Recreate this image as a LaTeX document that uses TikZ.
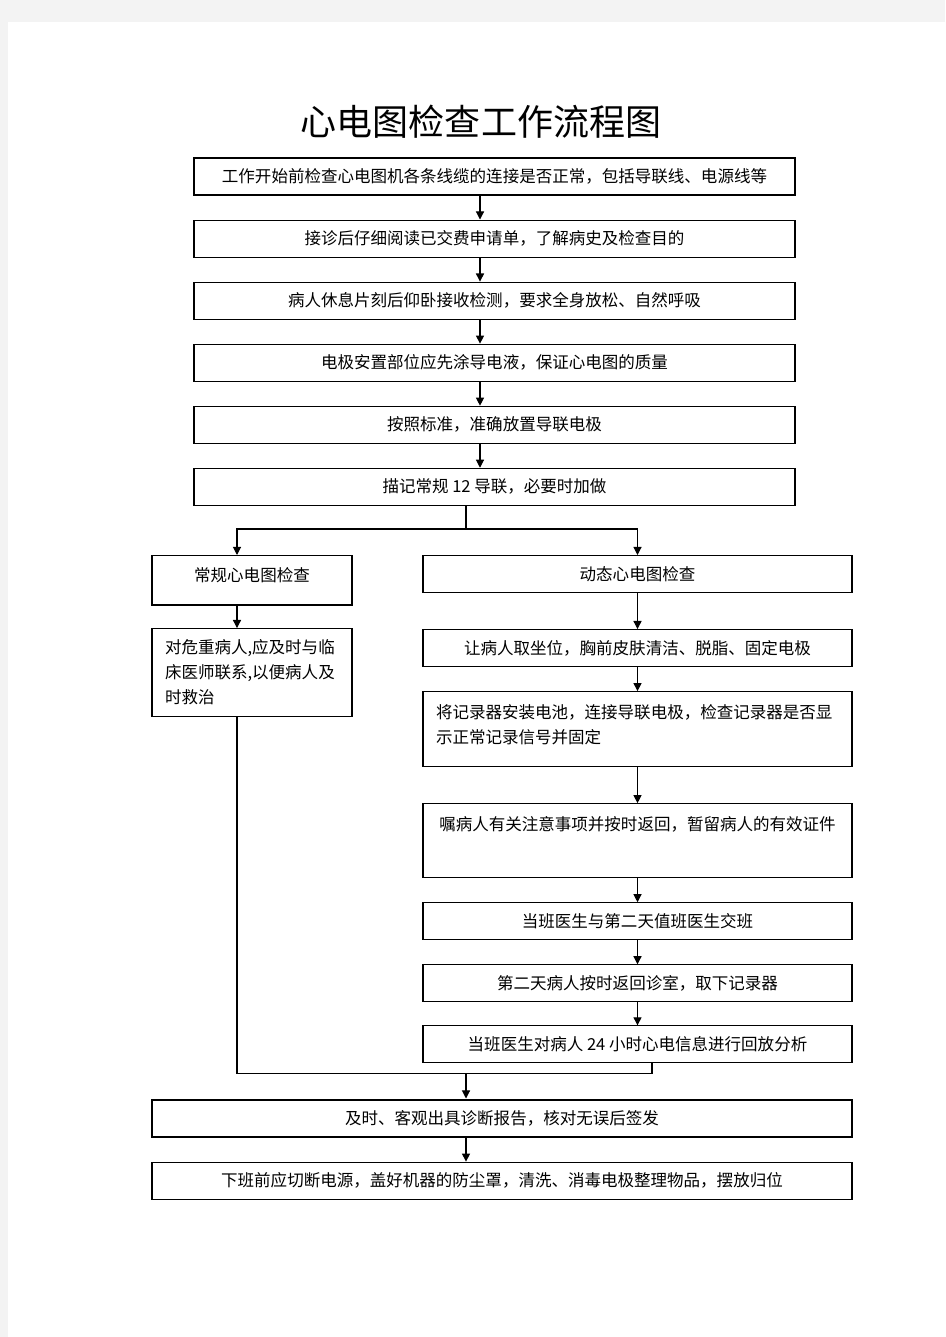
\documentclass[tikz,border=0pt]{standalone}
\usepackage{fontspec}
\setmainfont{Noto Sans CJK SC}
\usetikzlibrary{positioning, arrows.meta}
\definecolor{pagegray}{HTML}{F3F3F3}

\begin{document}
\begin{tikzpicture}[node distance=0.48cm,>={Triangle[length=4.6pt,width=4.6pt]}]
\tikzstyle{every node}=[font=\fontsize{9.4pt}{14.2pt}\selectfont]
\tikzstyle{box}=[draw, line width=0.6pt, rectangle, inner sep=0pt, minimum height=0.74cm]
\tikzstyle{mainbox}=[box, minimum width=12.02cm]
\tikzstyle{leftbox}=[box, minimum width=4cm]
\tikzstyle{rightbox}=[box, minimum width=8.58cm]
\tikzstyle{wide}=[box, minimum width=14cm]
\tikzstyle{every path}=[line width=0.6pt]

\fill[pagegray] (0,0) rectangle (18.9,-26.74);
\fill[white] (0.16,-0.44) rectangle (18.9,-26.74);
\useasboundingbox (0,0) rectangle (18.9,-26.74);

\node[font=\fontsize{20.5pt}{24pt}\selectfont] (title) at (9.62,-2.44) {心电图检查工作流程图};

\node[mainbox] (s1) at (9.89,-3.53) {工作开始前检查心电图机各条线缆的连接是否正常，包括导联线、电源线等};
\node[mainbox,below=of s1] (s2) {接诊后仔细阅读已交费申请单，了解病史及检查目的};
\node[mainbox,below=of s2] (s3) {病人休息片刻后仰卧接收检测，要求全身放松、自然呼吸};
\node[mainbox,below=of s3] (s4) {电极安置部位应先涂导电液，保证心电图的质量};
\node[mainbox,below=of s4] (s5) {按照标准，准确放置导联电极};
\node[mainbox,below=of s5] (s6) {描记常规 12 导联，必要时加做};

\coordinate (axis) at (9.6,0);
\coordinate (fork) at (9.32,-10.58);
\coordinate (forkL) at (4.74,-10.58);

\node[leftbox, minimum height=0, text height=0.52cm, text depth=0.46cm, anchor=north] (A) at (5.04,-11.1) {常规心电图检查};
\node[leftbox, below=0.46cm of A, minimum height=1.76cm, text width=3.48cm, inner xsep=0.26cm, align=left] (C) {对危重病人,应及时与临\\床医师联系,以便病人及\\时救治};

\node[rightbox, anchor=north] (B) at (12.75,-11.1) {动态心电图检查};
\node[rightbox, below=0.72cm of B] (D) {让病人取坐位，胸前皮肤清洁、脱脂、固定电极};
\node[rightbox, below=of D, minimum height=1.5cm, text width=8.06cm, inner xsep=0.26cm, align=left] (E) {将记录器安装电池，连接导联电极，检查记录器是否显\\示正常记录信号并固定\\[-0.3cm]\mbox{}};
\node[rightbox, below=0.72cm of E, minimum height=0, text height=0.54cm, text depth=0.94cm] (F) {嘱病人有关注意事项并按时返回，暂留病人的有效证件};
\node[rightbox, below=of F] (G) {当班医生与第二天值班医生交班};
\node[rightbox, below=of G] (H) {第二天病人按时返回诊室，取下记录器};
\node[rightbox, below=0.46cm of H] (I) {当班医生对病人 24 小时心电信息进行回放分析};

\coordinate (join) at (9.32,-21.47);
\coordinate (joinR) at (13.04,-21.47);

\node[wide, line width=1.2pt, anchor=north] (J) at (10.04,-21.97) {及时、客观出具诊断报告，核对无误后签发};
\node[wide, below=of J] (K) {下班前应切断电源，盖好机器的防尘罩，清洗、消毒电极整理物品，摆放归位};

\draw[->] (s1.south -| axis) -- (s2.north -| axis);
\draw[->] (s2.south -| axis) -- (s3.north -| axis);
\draw[->] (s3.south -| axis) -- (s4.north -| axis);
\draw[->] (s4.south -| axis) -- (s5.north -| axis);
\draw[->] (s5.south -| axis) -- (s6.north -| axis);

\draw (s6.south -| fork) -- (fork);
\draw[->] (fork) -| (A.north -| forkL);
\draw[->] (fork) -| (B);
\draw[->] (A.south -| forkL) -- (C.north -| forkL);
\draw[line width=1.2pt] (A.south west) -- (A.south east);

\draw[->] (B) -- (D);
\draw[->] (D) -- (E);
\draw[->] (E) -- (F);
\draw[->] (F) -- (G);
\draw[->] (G) -- (H);
\draw[->] (H) -- (I);

\draw (C.south -| forkL) |- (joinR) -- (joinR |- I.south);
\draw[->] (join) -- (J.north -| join);
\draw[->] (J.south -| join) -- (K.north -| join);
\end{tikzpicture}
\end{document}
